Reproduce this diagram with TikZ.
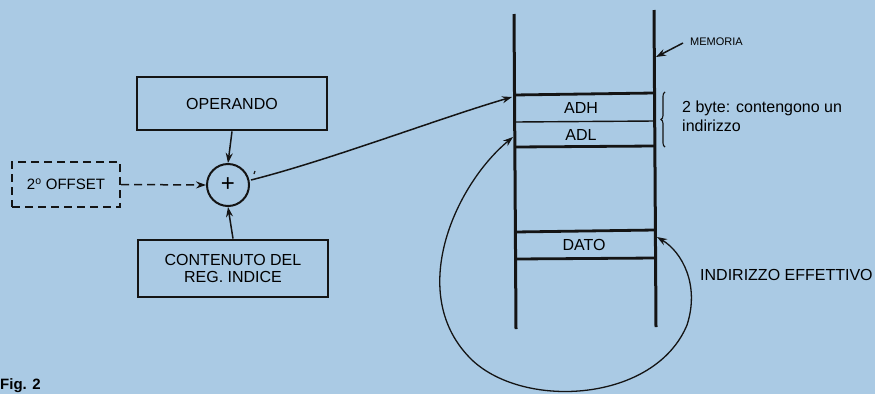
\documentclass[tikz,border=0pt]{standalone}
\usepackage{fontspec}
\setmainfont{Liberation Sans}
\usetikzlibrary{arrows.meta,decorations.pathreplacing}
\definecolor{bg}{RGB}{170,202,228}
\definecolor{ink}{RGB}{20,20,20}
\tikzset{
  box/.style={draw=ink,line width=2.8pt,minimum width=190pt,align=center,font=\fontsize{16}{17.5}\selectfont,inner sep=0pt},
  dbox/.style={draw=ink,line width=2.3pt,dash pattern=on 8pt off 5pt,minimum width=108pt,minimum height=45pt,font=\fontsize{15}{16}\selectfont,inner sep=0pt},
  sumnode/.style={circle,draw=ink,line width=2pt,minimum size=42pt,inner sep=0pt,font=\fontsize{24}{24}\selectfont},
  conn/.style={draw=ink,line width=1.5pt,-{Stealth[length=10pt,width=7pt]}},
  thin/.style={draw=ink,line width=1.3pt},
  memline/.style={draw=ink,line width=3pt},
  rowthick/.style={draw=ink,line width=2.8pt},
  rowthin/.style={draw=ink,line width=1.4pt},
  lbl/.style={font=\fontsize{16}{17}\selectfont,inner sep=0pt},
}
\begin{document}
\begin{tikzpicture}[x=1pt,y=-1pt]
\fill[bg] (0,0) rectangle (875,394);
\useasboundingbox (0,0) rectangle (875,394);

% left part
\node[box,minimum height=53pt] (op) at (232,103.5) {OPERANDO};
\node[sumnode] (sum) at (228,185) {+};
\node[dbox] (off) at (66,184.5) {2\textsuperscript{o} OFFSET};
\node[box,minimum height=57pt] (cont) at (233,268.5) {CONTENUTO DEL\\REG. INDICE};

\draw[conn] (op.south) -- (sum.north);
\draw[conn] (cont.north) -- (sum.south);
\draw[conn,dash pattern=on 8pt off 5pt] (off.east) -- (sum.west);

% memory
\coordinate (LT) at (514,14);
\coordinate (LB) at (516,329);
\coordinate (RT) at (654,10);
\coordinate (RB) at (656,327);
\draw[memline] (LT) -- (LB);
\draw[memline] (RT) -- (RB);

\coordinate (r1l) at (514,95);  \coordinate (r1r) at (654,93);
\coordinate (r2l) at (515,122); \coordinate (r2r) at (655,121);
\coordinate (r3l) at (515,147); \coordinate (r3r) at (655,146);
\coordinate (r4l) at (515,232); \coordinate (r4r) at (655,230);
\coordinate (r5l) at (516,259); \coordinate (r5r) at (656,258);
\draw[rowthick] (r1l) -- (r1r);
\draw[rowthin] (r2l) -- (r2r);
\draw[rowthick] (r3l) -- (r3r);
\draw[rowthick] (r4l) -- (r4r);
\draw[rowthick] (r5l) -- (r5r);

\node[lbl] (adh) at (581,108) {ADH};
\node[lbl] (adl) at (581,135) {ADL};
\node[lbl] (dato) at (584,245) {DATO};

% circle to ADH
\coordinate (adhin) at (512,97);
\draw[conn] (sum.east) ++(1,-5) .. controls (330,160) and (440,118) .. (adhin);
\coordinate (tick) at (254,174);
\draw[ink,line width=1.2pt] (tick) -- ++(1,-3);

% MEMORIA
\node[font=\fontsize{11}{12}\selectfont,anchor=west,inner sep=0pt] (mem) at (690,42) {MEMORIA};
\coordinate (memtip) at (656,57);
\draw[conn] (683,43) -- (memtip);

% brace
\coordinate (bt) at (665,92);
\coordinate (bb) at (665,147);
\draw[ink,line width=1.1pt,decorate,decoration={brace,amplitude=4pt,mirror}] (bt) -- (bb);
\node[font=\fontsize{16}{19}\selectfont,align=left,anchor=north west,inner sep=0pt] (two) at (682,101) {2 byte: contengono un\\indirizzo};

% loop
\coordinate (adlin) at (513,137);
\coordinate (datoin) at (657,237);
\draw[thin,{Stealth[length=10pt,width=7pt]}-{Stealth[length=10pt,width=7pt]}] (adlin) .. controls (455,185) and (405,295) .. (472,360) .. controls (525,410) and (655,402) .. (687,325) .. controls (700,285) and (682,252) .. (datoin);

\node[font=\fontsize{16}{17}\selectfont,anchor=west,inner sep=0pt] (ie) at (700,275) {INDIRIZZO EFFETTIVO};

% fig label
\node[font=\bfseries\fontsize{15}{17}\selectfont,anchor=south west,inner sep=0pt] (fig) at (0,393) {Fig. 2};
\end{tikzpicture}
\end{document}
